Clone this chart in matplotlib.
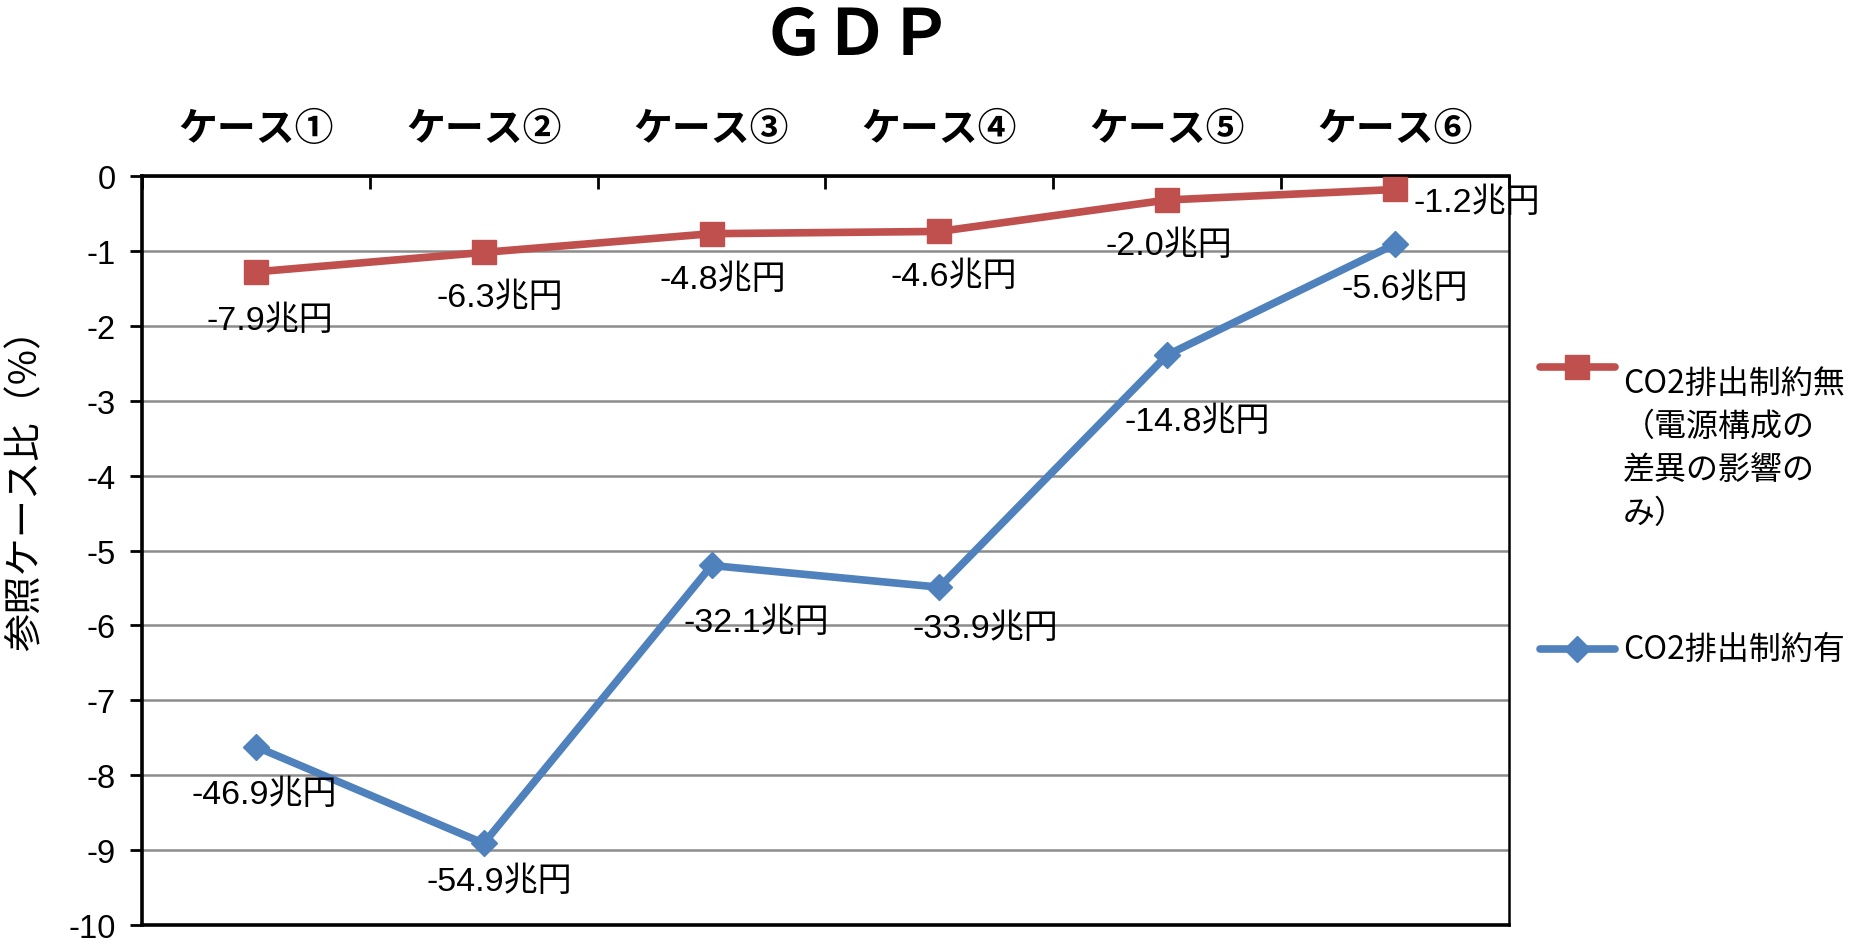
import numpy as np
import matplotlib.pyplot as plt
from matplotlib.lines import Line2D

plt.rcParams['font.family'] = ['Liberation Sans', 'Noto Sans CJK JP', 'DejaVu Sans']

cases = ['ケース①', 'ケース②', 'ケース③', 'ケース④', 'ケース⑤', 'ケース⑥']
no_limit = [-1.28, -1.02, -0.77, -0.74, -0.32, -0.18]
with_limit = [-7.62, -8.91, -5.20, -5.49, -2.39, -0.91]
no_limit_labels = ['-7.9兆円', '-6.3兆円', '-4.8兆円', '-4.6兆円', '-2.0兆円', '-1.2兆円']
with_limit_labels = ['-46.9兆円', '-54.9兆円', '-32.1兆円', '-33.9兆円', '-14.8兆円', '-5.6兆円']
yticks = np.arange(0, -11, -1)

# ラベル位置（ポイント単位のずらし）
red_off = [(10, -35), (11.5, -32), (8, -33), (10, -32), (1.5, -32.5), (59, -9)]
blue_off = [(6, -34), (11.5, -27), (32, -41), (33, -29.5), (21.5, -48), (7, -32)]

red = '#C0504D'
blue = '#4F81BD'
jp = ['Noto Sans CJK JP', 'DejaVu Sans']
lab_font = ['Liberation Sans', 'Noto Sans CJK JP']

fig = plt.figure(figsize=(18.67, 9.45), dpi=100)
ax = fig.add_axes([0.0761, 0.0201, 0.8322 - 0.0761 - 0.024, 0.8127 - 0.0201])

x = np.arange(len(cases))
ax.plot(x, no_limit, color=red, lw=5.5, marker='s', ms=17, zorder=4)
ax.plot(x, with_limit, color=blue, lw=5.5, marker='D', ms=13, zorder=4)

for i in range(len(cases)):
    ax.annotate(no_limit_labels[i], (x[i], no_limit[i]), xytext=red_off[i],
                textcoords='offset points', ha='center', va='center',
                fontsize=24.5, family=lab_font, zorder=5)
    ax.annotate(with_limit_labels[i], (x[i], with_limit[i]), xytext=blue_off[i],
                textcoords='offset points', ha='center', va='center',
                fontsize=24.5, family=lab_font, zorder=5)

ax.set_xlim(-0.5, len(cases) - 0.5)
ax.set_ylim(-10, 0)
ax.set_yticks(yticks)
ax.set_yticklabels([str(v) for v in yticks])
ax.tick_params(axis='y', direction='out', length=9, width=2, pad=10, labelsize=23.5)

ax.xaxis.tick_top()
ax.set_xticks(np.arange(-0.5, len(cases)), minor=False)
ax.set_xticklabels([])
ax.set_xticks(x, minor=True)
ax.set_xticklabels(cases, minor=True, fontsize=28, fontweight='bold', family=jp)
ax.tick_params(axis='x', which='major', direction='in', length=9, width=2)
ax.tick_params(axis='x', which='minor', length=0, pad=20, labeltop=True, labelbottom=False)

ax.yaxis.grid(True, color='#8C8C8C', lw=1.8)
ax.set_axisbelow(True)
for s in ['top', 'left', 'bottom']:
    ax.spines[s].set_linewidth(2.6)
ax.spines['right'].set_linewidth(1.8)

fig.text(0.459, 0.962, 'ＧＤＰ', ha='center', va='center', fontsize=46,
         fontweight='bold', family=jp)
fig.text(0.014, 0.492, '参照ケース比（%）', rotation=90, ha='center', va='center',
         fontsize=27.5, family=jp)

# 凡例
W, H = 1867, 945
for yy, col, mk, msz in [(368, red, 's', 17), (650, blue, 'D', 13)]:
    fig.add_artist(Line2D([1540 / W, 1577 / W, 1615 / W], [1 - yy / H] * 3,
                          color=col, lw=5.5, marker=mk, ms=msz, markevery=[1],
                          solid_capstyle='round'))
fig.text(1623 / W, 1 - 368 / H, 'CO2排出制約無\n（電源構成の\n差異の影響の\nみ）',
         ha='left', va='top', fontsize=23, family=jp, linespacing=1.45,
         transform=fig.transFigure)
fig.text(1623 / W, 1 - 650 / H, 'CO2排出制約有', ha='left', va='center',
         fontsize=23, family=jp)

fig.savefig('out.png', dpi=100)
